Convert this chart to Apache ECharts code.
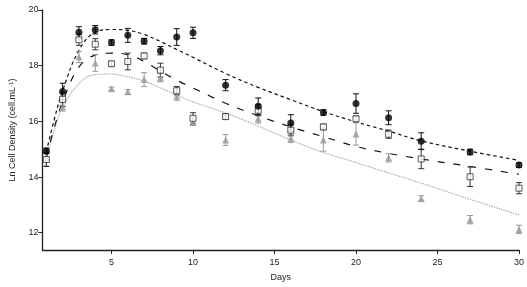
<!DOCTYPE html>
<html><head><meta charset="utf-8">
<script src="https://cdn.jsdelivr.net/npm/echarts@6/dist/echarts.min.js"></script>
<style>html,body{margin:0;padding:0;background:#fff}#c{width:527px;height:287px}</style>
</head><body><div id="c"></div>
<script>
const days = [1,2,3,4,5,6,7,8,9,10,12,14,16,18,20,22,24,27,30];
const circleMean = [14.94,17.07,19.2,19.29,18.83,19.09,18.88,18.54,19.03,19.18,17.3,16.54,15.94,16.32,16.64,16.13,15.29,14.9,14.43];
const circleErr  = [0.1,0.3,0.2,0.15,0.1,0.25,0.1,0.15,0.3,0.2,0.2,0.3,0.3,0.1,0.35,0.25,0.3,0.1,0.08];
const squareMean = [14.63,16.79,18.93,18.77,18.07,18.15,18.35,17.84,17.1,16.11,16.17,16.4,15.68,15.8,16.09,15.54,14.65,14.01,13.6];
const squareErr  = [0.25,0.25,0.2,0.2,0.08,0.3,0.1,0.25,0.15,0.2,0.1,0.2,0.2,0.1,0.1,0.15,0.35,0.35,0.2];
const triMean    = [14.7,16.52,18.31,18.1,17.17,17.06,17.5,17.57,16.91,16.0,15.33,16.09,15.39,15.33,15.55,14.69,13.23,12.47,12.12];
const triErr     = [0.3,0.15,0.2,0.3,0.06,0.08,0.25,0.15,0.15,0.15,0.2,0.15,0.15,0.4,0.4,0.15,0.1,0.15,0.15];

const modelDays  = [1,1.5,2,3,4,5,6,7,8,9,10,12,14,16,18,20,22,24,27,30];
const fitCircle  = [14.9,16.1,17.1,18.55,19.2,19.3,19.27,19.12,18.87,18.58,18.3,17.72,17.22,16.78,16.35,15.98,15.65,15.3,14.93,14.6];
const fitSquare  = [14.7,15.8,16.7,17.95,18.38,18.45,18.4,18.15,17.8,17.48,17.2,16.65,16.2,15.8,15.45,15.1,14.85,14.65,14.38,14.1];
const fitTri     = [14.6,15.7,16.5,17.35,17.68,17.7,17.6,17.45,17.2,16.95,16.7,16.3,15.83,15.33,14.88,14.52,14.15,13.78,13.2,12.64];

const xTicks = [5,10,15,20,25,30];
const yTicks = [12,14,16,18,20];

const pair = (xs, ys) => xs.map((x, i) => [x, ys[i]]);
const errData = (m, e) => days.map((d, i) => [d, m[i] - e[i], m[i] + e[i]]);

function errSeries(m, e, color, z) {
  return {
    type: 'custom', z: z, silent: true,
    data: errData(m, e),
    encode: { x: 0, y: [1, 2] },
    renderItem: function (params, api) {
      const lo = api.coord([api.value(0), api.value(1)]);
      const hi = api.coord([api.value(0), api.value(2)]);
      const w = 3;
      const st = { stroke: color, lineWidth: 1, fill: null };
      return { type: 'group', children: [
        { type: 'line', shape: { x1: lo[0], y1: lo[1], x2: hi[0], y2: hi[1] }, style: st },
        { type: 'line', shape: { x1: lo[0]-w, y1: lo[1], x2: lo[0]+w, y2: lo[1] }, style: st },
        { type: 'line', shape: { x1: hi[0]-w, y1: hi[1], x2: hi[0]+w, y2: hi[1] }, style: st }
      ]};
    }
  };
}

const font = 'Liberation Sans, Arial, sans-serif';
const chart = echarts.init(document.getElementById('c'), null, { renderer: 'canvas' });
chart.setOption({
  animation: false,
  backgroundColor: '#fff',
  grid: { left: 37, right: 7, top: 10, bottom: 31 },
  xAxis: {
    type: 'value', min: 0.76, max: 30,
    name: 'Days', nameLocation: 'middle', nameGap: 23,
    nameTextStyle: { fontFamily: font, fontSize: 9, color: '#222' },
    axisLine: { lineStyle: { color: '#222', width: 1.3 } },
    axisTick: { show: true, length: 4, customValues: xTicks, lineStyle: { color: '#222' } },
    axisLabel: { customValues: xTicks, fontFamily: font, fontSize: 9, color: '#222', margin: 8 },
    splitLine: { show: false }
  },
  yAxis: {
    type: 'value', min: 11.38, max: 20,
    name: '{a|Ln Cell Density (cell.mL}{s|-1}{a|)}', nameLocation: 'middle', nameGap: 24,
    nameTextStyle: { fontFamily: font, fontSize: 9, color: '#222',
      rich: { a: { fontFamily: font, fontSize: 9, color: '#222' },
              s: { fontFamily: font, fontSize: 6, color: '#222', verticalAlign: 'top', padding: [0,0,4,0] } } },
    axisLine: { show: true, lineStyle: { color: '#222', width: 1.3 } },
    axisTick: { show: true, length: 4, customValues: yTicks, lineStyle: { color: '#222' } },
    axisLabel: { customValues: yTicks, fontFamily: font, fontSize: 9, color: '#222', margin: 4 },
    splitLine: { show: false }
  },
  series: [
    { type: 'line', data: pair(modelDays, fitTri), smooth: 0.4, showSymbol: false, z: 1,
      lineStyle: { color: '#a8a8a8', width: 1.1, type: [1.5, 1] } },
    { type: 'line', data: pair(modelDays, fitSquare), smooth: 0.4, showSymbol: false, z: 1,
      lineStyle: { color: '#111', width: 1.2, type: [7, 9] } },
    { type: 'line', data: pair(modelDays, fitCircle), smooth: 0.4, showSymbol: false, z: 1,
      lineStyle: { color: '#111', width: 1.2, type: [3.5, 3] } },
    errSeries(triMean, triErr, '#999', 2),
    errSeries(squareMean, squareErr, '#333', 3),
    errSeries(circleMean, circleErr, '#111', 4),
    { type: 'scatter', data: pair(days, triMean), symbol: 'triangle', symbolSize: 7, z: 5,
      itemStyle: { color: '#999' } },
    { type: 'scatter', data: pair(days, squareMean), symbol: 'rect', symbolSize: 6, z: 6,
      itemStyle: { color: '#fff', borderColor: '#333', borderWidth: 1 } },
    { type: 'scatter', data: pair(days, circleMean), symbol: 'circle', symbolSize: 7, z: 7,
      itemStyle: { color: '#000' } }
  ]
});
</script></body></html>
